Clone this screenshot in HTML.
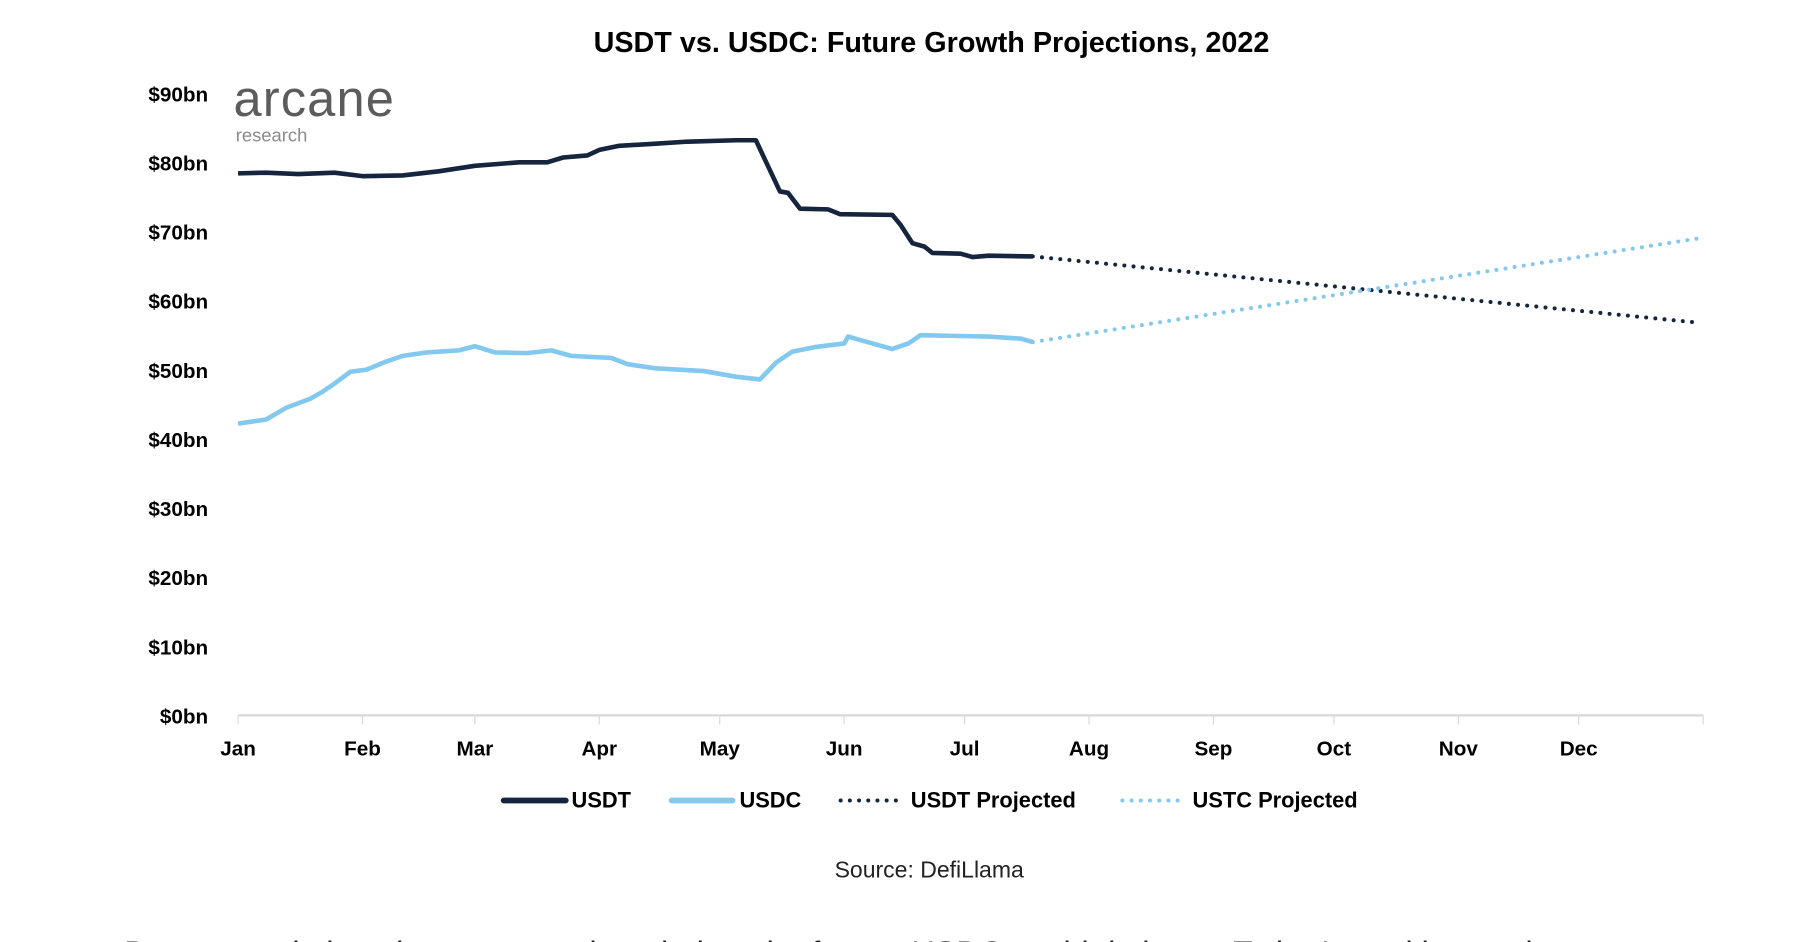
<!DOCTYPE html>
<html><head><meta charset="utf-8"><style>
html,body{margin:0;padding:0;background:#fff;width:1794px;height:942px;overflow:hidden}
svg{display:block}
text{font-family:"Liberation Sans",Arial,sans-serif}
</style></head><body>
<svg id="chart" width="1794" height="942" viewBox="0 0 1560 819" xmlns="http://www.w3.org/2000/svg">
<text x="810" y="45" text-anchor="middle" font-size="25" font-weight="bold" fill="#000">USDT vs. USDC: Future Growth Projections, 2022</text>
<g>
<text x="203" y="101" font-size="44" fill="#5c5c5c" letter-spacing="1">arcane</text>
<text x="205" y="123" font-size="16" fill="#8a8a8a">research</text>
</g>
<g id="yaxis"></g>
<g id="xaxis"></g>
<g id="series"></g>
<g font-size="19" font-weight="bold" fill="#000">
<g><line x1="438" y1="696" x2="492" y2="696" stroke="#15253d" stroke-width="5" stroke-linecap="round"/><text x="497" y="702">USDT</text></g>
<g><line x1="584" y1="696" x2="637" y2="696" stroke="#82c8ef" stroke-width="5" stroke-linecap="round"/><text x="643" y="702">USDC</text></g>
<g><line x1="731" y1="696" x2="784" y2="696" stroke="#15253d" stroke-width="3.5" stroke-dasharray="0 8" stroke-linecap="round"/><text x="792" y="702">USDT Projected</text></g>
<g><line x1="976" y1="696" x2="1028" y2="696" stroke="#82c8ef" stroke-width="3.5" stroke-dasharray="0 8" stroke-linecap="round"/><text x="1037" y="702">USTC Projected</text></g>
</g>
<text x="808" y="763" text-anchor="middle" font-size="20" fill="#222">Source: DefiLlama</text>
<text x="108" y="838" font-size="28" fill="#222">Due to regulation, the company thought into the future, USDC could dethrone Tether's position as the</text>
</svg>
<script>
const monthLabels=["Jan","Feb","Mar","Apr","May","Jun","Jul","Aug","Sep","Oct","Nov","Dec"];
const monthStartDays=[0,31,59,90,120,151,181,212,243,273,304,334];
const yTicks=[0,10,20,30,40,50,60,70,80,90];
const usdtDays=[0,7,15,24,31,41,50,59,70,77,81,87,90,95,104,112,124,129,132,135,137,140,147,150,163,165,168,171,173,180,183,187,198];
const usdtValues=[78.4,78.5,78.3,78.5,78.0,78.1,78.7,79.5,80.0,80.0,80.7,81.0,81.8,82.4,82.7,83.0,83.2,83.2,79.5,75.8,75.6,73.3,73.2,72.5,72.4,71.0,68.3,67.8,66.9,66.8,66.3,66.5,66.4];
const usdcDays=[0,7,12,18,21,24,28,32,37,41,47,55,59,64,72,78,83,93,97,104,116,124,130,134,138,144,151,152,158,163,167,170,178,187,195,198];
const usdcValues=[42.2,42.8,44.5,45.8,46.8,48.0,49.7,50.0,51.2,52.0,52.5,52.8,53.4,52.5,52.4,52.8,52.0,51.7,50.8,50.2,49.8,49.0,48.6,51.0,52.6,53.3,53.8,54.8,53.8,53.0,53.8,55.0,54.9,54.8,54.5,54.0];
const usdtProjDays=[198,364];
const usdtProjValues=[66.4,56.8];
const usdcProjDays=[198,365];
const usdcProjValues=[54.0,69.1];

const NS="http://www.w3.org/2000/svg";
const x0=207,x1=1481,y0=622,yTop=81;
function xs(d){return x0+d/365*(x1-x0);}
function ys(v){return y0-v/90*(y0-yTop);}
function mk(tag,attrs,parent){const e=document.createElementNS(NS,tag);for(const k in attrs)e.setAttribute(k,attrs[k]);parent.appendChild(e);return e;}

const ya=document.getElementById('yaxis');
yTicks.forEach(v=>{
 const t=mk('text',{x:181,y:ys(v)+7,'text-anchor':'end','font-size':18,'font-weight':'bold',fill:'#000'},ya);
 
 
 t.textContent='$'+v+'bn';
});
const xa=document.getElementById('xaxis');
const base=mk('line',{x1:x0,y1:y0,x2:x1,y2:y0,stroke:'#d9d9dd','stroke-width':2},xa);


monthStartDays.concat([365]).forEach(d=>{
 const l=mk('line',{x1:xs(d),y1:y0,x2:xs(d),y2:y0+8,stroke:'#d9d9dd','stroke-width':1},xa);
 
 
});
monthLabels.forEach((m,i)=>{
 const t=mk('text',{x:xs(monthStartDays[i]),y:657,'text-anchor':'middle','font-size':18,'font-weight':'bold',fill:'#000'},xa);
 
 
 t.textContent=m;
});
const sg=document.getElementById('series');
function pts(days,vals){return days.map((d,i)=>xs(d).toFixed(1)+','+ys(vals[i]).toFixed(1)).join(' ');}
const p1=mk('polyline',{points:pts(usdtProjDays,usdtProjValues),fill:'none',stroke:'#15253d','stroke-width':3.5,'stroke-dasharray':'0 8','stroke-linecap':'round'},sg);


const p2=mk('polyline',{points:pts(usdcProjDays,usdcProjValues),fill:'none',stroke:'#82c8ef','stroke-width':3.5,'stroke-dasharray':'0 8','stroke-linecap':'round'},sg);


const l1=mk('polyline',{points:pts(usdtDays,usdtValues),fill:'none',stroke:'#15253d','stroke-width':4,'stroke-linejoin':'round'},sg);


const l2=mk('polyline',{points:pts(usdcDays,usdcValues),fill:'none',stroke:'#82c8ef','stroke-width':4,'stroke-linejoin':'round'},sg);


</script>
</body></html>
